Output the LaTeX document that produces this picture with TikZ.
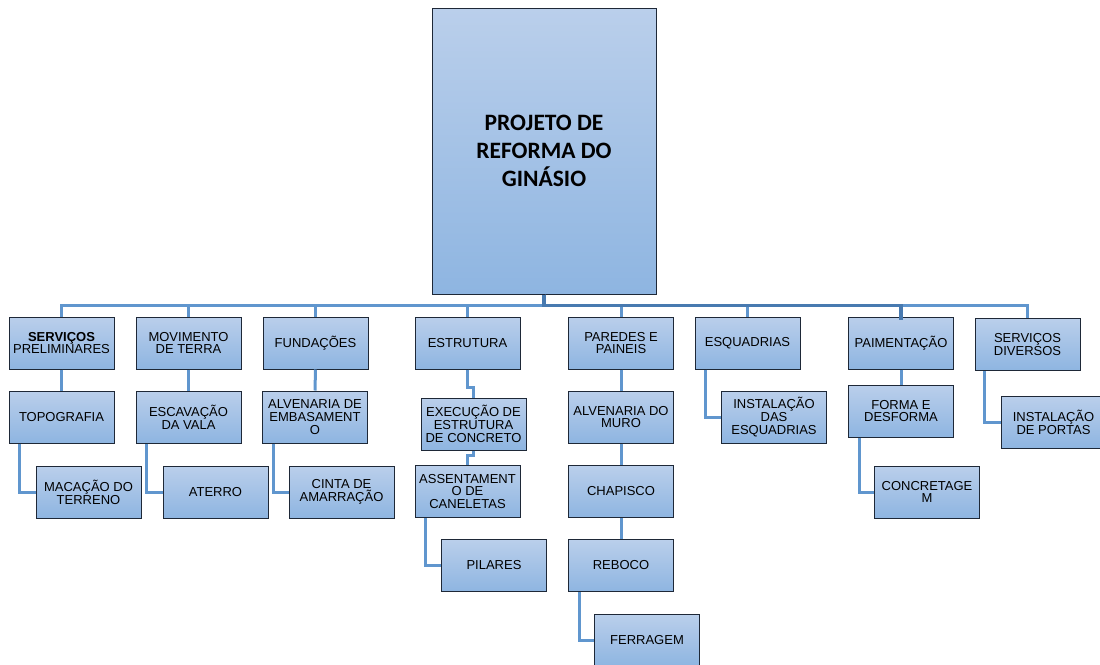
\documentclass[tikz,border=0pt]{standalone}
\usepackage{fontspec}
\setmainfont{Liberation Sans}
\newfontfamily\titlefont{Carlito}
\usetikzlibrary{calc}

\definecolor{boxtop}{RGB}{186,207,235}
\definecolor{boxbot}{RGB}{142,181,225}
\definecolor{boxline}{RGB}{30,40,55}
\definecolor{wire}{RGB}{96,150,206}
\definecolor{bus}{RGB}{72,122,176}

\tikzset{
  wbs/.style={draw=boxline, line width=1pt, top color=boxtop, bottom color=boxbot,
    minimum width=105pt, minimum height=52pt, inner sep=1pt, align=center,
    font=\fontsize{13}{12.8}\selectfont, text=black},
  rootbox/.style={wbs, minimum width=224pt, minimum height=286pt,
    font=\titlefont\bfseries\fontsize{23.5}{28}\selectfont},
  link/.style={draw=wire, line width=3pt},
  trunk/.style={draw=bus, line width=3.6pt},
}

\begin{document}
\begin{tikzpicture}[x=1pt,y=-1pt]
\useasboundingbox (0,0) rectangle (1100,664);
\clip (0,0) rectangle (1100,664);

% root
\node[rootbox] (root) at (544,151) {PROJETO DE\\REFORMA DO\\GINÁSIO};

% first level
\node[wbs] (s1) at (61.5,343) {\textbf{SERVIÇOS}\\PRELIMINARES};
\node[wbs] (s2) at (188.5,343) {MOVIMENTO\\DE TERRA};
\node[wbs] (s3) at (315.5,343) {FUNDAÇÕES};
\node[wbs] (s4) at (467.5,343) {ESTRUTURA};
\node[wbs] (s5) at (621,343) {PAREDES E\\PAINEIS};
\node[wbs] (s6) at (747.5,343) {ESQUADRIAS};
\node[wbs] (s7) at (901,343) {PAIMENTAÇÃO};
\node[wbs] (s8) at (1027.5,344.5) {SERVIÇOS\\DIVERSOS};

% serviços preliminares
\node[wbs] (topo) at (61.5,417) {TOPOGRAFIA};
\node[wbs] (maca) at (88.5,492) {MACAÇÃO DO\\TERRENO};
% movimento de terra
\node[wbs] (esca) at (188.5,417) {ESCAVAÇÃO\\DA VALA};
\node[wbs] (ater) at (215.5,492) {ATERRO};
% fundações
\node[wbs] (emba) at (315,417) {ALVENARIA DE\\EMBASAMENT\\O};
\node[wbs] (cint) at (341.5,492) {CINTA DE\\AMARRAÇÃO};
% estrutura
\node[wbs] (exec) at (473.5,424) {EXECUÇÃO DE\\ESTRUTURA\\DE CONCRETO};
\node[wbs] (asse) at (467.5,491.5) {ASSENTAMENT\\O DE\\CANELETAS};
\node[wbs] (pila) at (494,565.5) {PILARES};
% paredes e paineis
\node[wbs] (muro) at (621,417) {ALVENARIA DO\\MURO};
\node[wbs] (chap) at (621,491.5) {CHAPISCO};
\node[wbs] (rebo) at (621,565.5) {REBOCO};
\node[wbs] (ferr) at (647,640) {FERRAGEM};
% esquadrias
\node[wbs] (iesq) at (774,417) {INSTALAÇÃO\\DAS\\ESQUADRIAS};
% paimentação
\node[wbs] (form) at (901,411) {FORMA E\\DESFORMA};
\node[wbs] (conc) at (927,492) {CONCRETAGE\\M};
% serviços diversos
\node[wbs] (port) at (1053.5,422) {INSTALAÇÃO\\DE PORTAS};

% root to first level
\foreach \c in {s1,s2,s3,s4,s5,s6,s7,s8}
  \draw[link] (root.south) -- ++(0,11) -| (\c.north);
\draw[trunk] (root.south) -- ++(0,11) -| ([yshift=-3pt]s7.north);

% straight drops
\draw[link] (s1.south) -- (topo.north);
\draw[link] (s2.south) -- (esca.north);
\draw[link] (s3.south) -- (emba.north);
\draw[link] (s5.south) -- (muro.north);
\draw[link] (muro.south) -- (chap.north);
\draw[link] (chap.south) -- (rebo.north);
\draw[link] (s7.south) -- (form.north);

% jogged drops
\draw[link] (s4.south) -- ++(0,18) -| (exec.north);
\draw[link] (exec.south) -- ++(0,5) -| (asse.north);

% side elbows
\draw[link] ([xshift=11pt]topo.south west) |- (maca.west);
\draw[link] ([xshift=11pt]esca.south west) |- (ater.west);
\draw[link] ([xshift=11pt]emba.south west) |- (cint.west);
\draw[link] ([xshift=11pt]asse.south west) |- (pila.west);
\draw[link] ([xshift=11pt]rebo.south west) |- (ferr.west);
\draw[link] ([xshift=11pt]s6.south west) |- (iesq.west);
\draw[link] ([xshift=11pt]form.south west) |- (conc.west);
\draw[link] ([xshift=10pt]s8.south west) |- (port.west);
\end{tikzpicture}
\end{document}
